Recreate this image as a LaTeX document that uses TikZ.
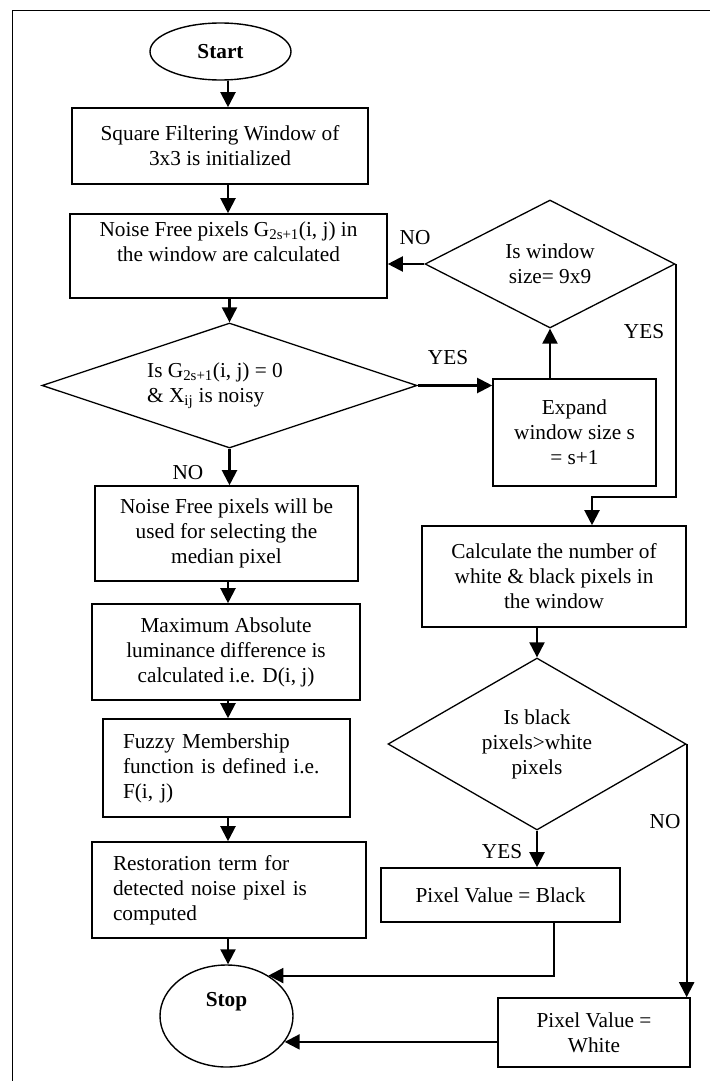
\documentclass[tikz,border=0pt]{standalone}
\usepackage{fontspec}
\setmainfont{Liberation Serif}
\usetikzlibrary{shapes.geometric,arrows.meta}
\tikzset{
  % Style for the text of all blocks
  flow text/.style={font=\fontsize{21.3}{25}\selectfont, align=center},
  % Style for the rectangular steps
  process box/.style={draw, rectangle, line width=1.6pt, inner sep=0pt, flow text},
  % Style for the tests (rhombus)
  decision/.style={draw, diamond, aspect=2, line width=1.3pt, inner sep=0pt, flow text},
  % Style for start and stop
  terminal/.style={draw, ellipse, line width=1.4pt, inner sep=0pt, flow text},
  % Style for the connectors with arrow
  flow arrow/.style={line width=2.1pt, -{Triangle[width=15pt,length=15pt]}},
  % Style for the yes / no labels
  branch label/.style={flow text, inner sep=0pt},
  frame line/.style={line width=1.3pt}
}

\begin{document}
\begin{tikzpicture}[x=1pt, y=-1pt]
  \useasboundingbox (0,0) rectangle (710,1081);
  \draw[frame line] (12.5,1081) |- (710,10.5);

  \coordinate (colL) at (228,0);

  % left column
  \node[terminal, minimum width=141pt, minimum height=57pt] (start) at (220.5,51.5) {\textbf{Start}};
  \node[process box, minimum width=296pt, minimum height=76pt] (init) at (220,146)
    {Square Filtering Window of\\3x3 is initialized};
  \node[process box, minimum width=317pt, minimum height=84pt] (noisefree) at (228.5,256) {};
  \node[flow text] (noisefreetxt) at ([yshift=14pt]noisefree.center)
    {Noise Free pixels G\textsubscript{2s+1}(i, j) in\\the window are calculated};
  \node[decision, minimum width=375pt, minimum height=125pt] (chkzero) at (229.5,385.5) {};
  \node[flow text, align=left, anchor=west, inner sep=0pt] (chkzerotxt) at (147,385.5)
    {Is G\textsubscript{2s+1}(i, j) = 0\\\& X\textsubscript{ij} is noisy};
  \node[process box, minimum width=263pt, minimum height=95pt] (select) at (226.5,533.5)
    {Noise Free pixels will be\\used for selecting the\\median pixel};
  \node[process box, minimum width=268pt, minimum height=96pt] (lumdiff) at (226,652)
    {Maximum Absolute\\luminance difference is\\calculated i.e. D(i, j)};
  \node[process box, align=left, text width=207pt, inner xsep=20pt, minimum height=98pt] (fuzzy) at (226.5,768)
    {Fuzzy Membership\\function is defined i.e.\\F(i, j)};
  \node[process box, align=left, text width=232pt, inner xsep=21pt, minimum height=96pt] (restore) at (229,890)
    {Restoration term for\\detected noise pixel is\\computed};
  \node[terminal, minimum width=133pt, minimum height=102pt] (stop) at (226.5,1016) {};
  \node[flow text] (stoptxt) at ([yshift=14pt]stop.center) {\textbf{Stop}};

  % right column
  \node[decision, minimum width=250pt, minimum height=128pt] (chksize) at (550,264) {Is window\\size= 9x9};
  \node[process box, minimum width=163pt, minimum height=107pt] (expand) at (574.5,432.5)
    {Expand\\window size s\\= s+1};
  \node[process box, minimum width=264pt, minimum height=101pt] (count) at (554,576.5)
    {Calculate the number of\\white \& black pixels in\\the window};
  \node[decision, minimum width=298pt, minimum height=172pt] (chkblack) at (537,744)
    {Is black\\pixels>white\\pixels};
  \node[process box, minimum width=239pt, minimum height=54pt] (black) at (500.5,895) {Pixel Value = Black};
  \node[process box, minimum width=192pt, minimum height=69pt] (white) at (594,1032.5) {Pixel Value =\\White};

  % connectors
  \draw[flow arrow] (start.south -| colL) -- (init.north -| colL);
  \draw[flow arrow] (init.south -| colL) -- (noisefree.north -| colL);
  \draw[flow arrow] (noisefree.south -| chkzero.north) -- (chkzero.north);
  \draw[flow arrow] (chkzero.south) -- (chkzero.south |- select.north);
  \draw[flow arrow] (select.south -| colL) -- (lumdiff.north -| colL);
  \draw[flow arrow] (lumdiff.south -| colL) -- (fuzzy.north -| colL);
  \draw[flow arrow] (fuzzy.south -| colL) -- (restore.north -| colL);
  \draw[flow arrow] (restore.south -| colL) -- (stop.north -| colL);

  \draw[flow arrow] (chkzero.east) -- (chkzero.east -| expand.west);
  \draw[flow arrow] (expand.north -| chksize.south) -- (chksize.south);
  \draw[flow arrow] (chksize.west) -- (chksize.west -| noisefree.east);
  \coordinate (yesbend) at (592,497);
  \draw[flow arrow] (chksize.east) |- (yesbend) -- (yesbend |- count.north);
  \draw[flow arrow] (count.south -| chkblack.north) -- (chkblack.north);
  \draw[flow arrow] (chkblack.south) -- (chkblack.south |- black.north);
  \draw[flow arrow] (chkblack.east) -- (chkblack.east |- white.north);
  \draw[flow arrow] ([xshift=53.5pt]black.south) |- (stop.44);
  \draw[flow arrow] (white.west |- stop.-24) -- (stop.-24);

  % labels
  \node[branch label] (nozero) at (188,473) {NO};
  \node[branch label] (yeszero) at (448,358) {YES};
  \node[branch label] (nosize) at (415,238) {NO};
  \node[branch label] (yessize) at (644,332) {YES};
  \node[branch label] (yesblack) at (502,852) {YES};
  \node[branch label] (noblack) at (665,822) {NO};
\end{tikzpicture}
\end{document}
